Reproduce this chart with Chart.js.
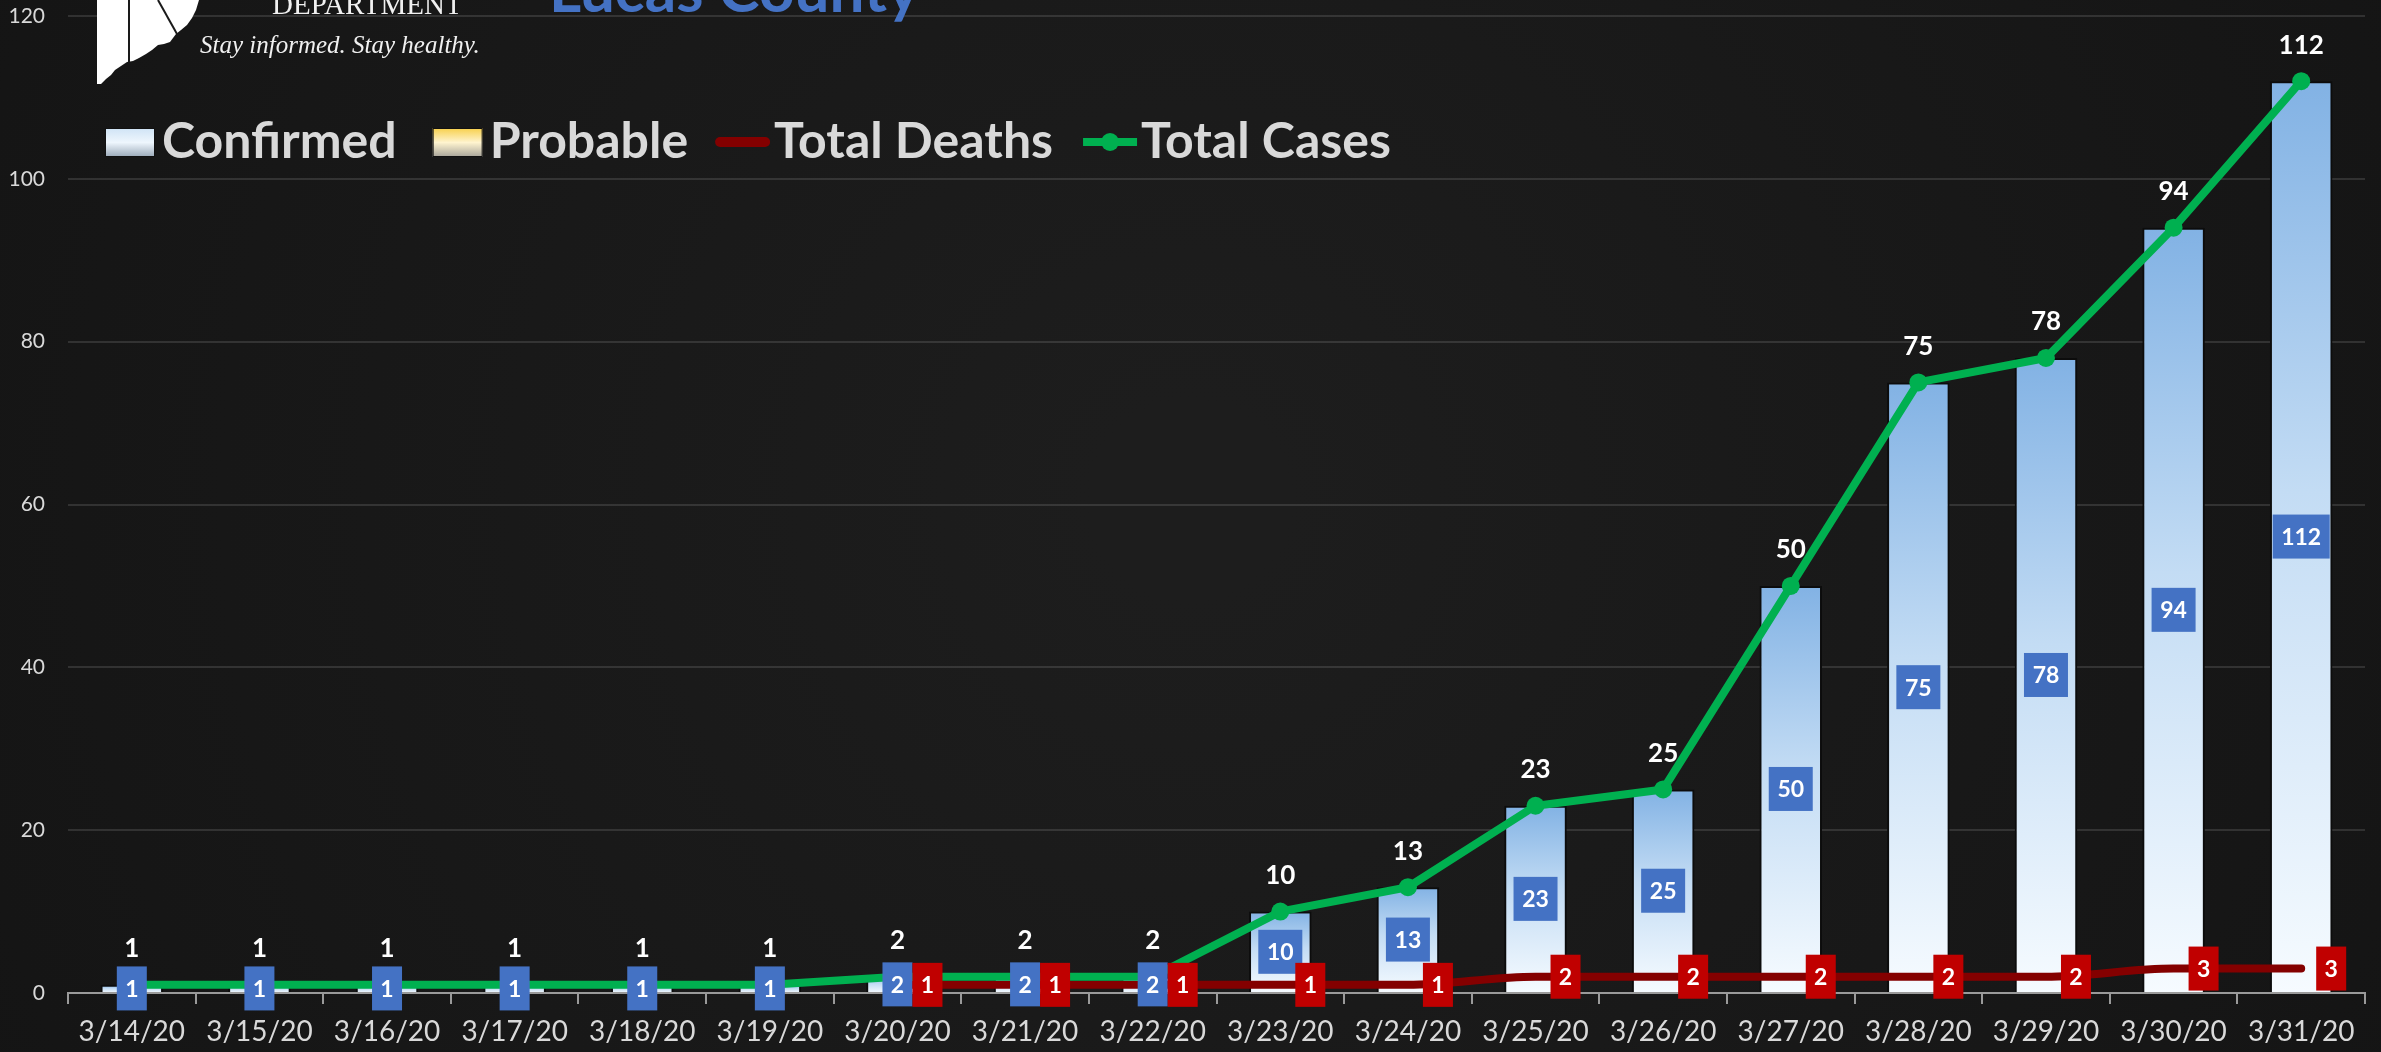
<!DOCTYPE html>
<html>
<head>
<meta charset="utf-8">
<script src="https://cdn.jsdelivr.net/npm/chart.js@4.4.1/dist/chart.umd.min.js"></script>
<style>
  html, body { margin: 0; padding: 0; background: #1b1b1b; overflow: hidden; }
  #wrap { width: 2381px; height: 1052px; }
</style>
</head>
<body>
<div id="wrap"><canvas id="c" width="2381" height="1052"></canvas></div>
<script>
// ---------------- data ----------------
const dates = ['3/14/20','3/15/20','3/16/20','3/17/20','3/18/20','3/19/20','3/20/20','3/21/20','3/22/20',
               '3/23/20','3/24/20','3/25/20','3/26/20','3/27/20','3/28/20','3/29/20','3/30/20','3/31/20'];
const confirmed   = [1, 1, 1, 1, 1, 1, 2, 2, 2, 10, 13, 23, 25, 50, 75, 78, 94, 112];
const probable    = [0, 0, 0, 0, 0, 0, 0, 0, 0, 0, 0, 0, 0, 0, 0, 0, 0, 0];
const totalDeaths = [null, null, null, null, null, null, 1, 1, 1, 1, 1, 2, 2, 2, 2, 2, 3, 3];
const totalCases  = [1, 1, 1, 1, 1, 1, 2, 2, 2, 10, 13, 23, 25, 50, 75, 78, 94, 112];
const seriesNames = ['Confirmed', 'Probable', 'Total Deaths', 'Total Cases'];
const yMin = 0, yMax = 120, yStep = 20;
const titleText = 'Lucas County';
const logoLine1 = 'DEPARTMENT';
const logoLine2 = 'Stay informed. Stay healthy.';

// ---------------- styles ----------------
const FONT = 'Lato, "Open Sans", sans-serif';
const TXT = '#d9d9d9';
const GREEN = '#00b050';
const DRED = '#840000';
const BLUEBOX = '#4472c4';
const REDBOX = '#c00000';

function barGradient(ctx) {
  const chart = ctx.chart;
  const area = chart.chartArea;
  if (!area || ctx.type !== 'data') return '#bcd6f0';
  const y = chart.scales.y;
  const top = y.getPixelForValue(ctx.raw || 0);
  const bot = y.getPixelForValue(0);
  if (!isFinite(top) || bot - top < 1) return '#bcd6f0';
  const g = chart.ctx.createLinearGradient(0, top, 0, bot);
  g.addColorStop(0, '#82b2e4');
  g.addColorStop(0.45, '#c3dcf4');
  g.addColorStop(1, '#f6fbff');
  return g;
}

function drawBox(c, text, cx, cy, color, leftX) {
  c.font = 'bold 23px ' + FONT;
  const tw = c.measureText(text).width;
  const w = Math.round(tw + 17), h = 44;
  const x = leftX !== undefined ? leftX : cx - w / 2;
  c.fillStyle = color;
  c.fillRect(x, cy - h / 2, w, h);
  c.fillStyle = '#ffffff';
  c.textAlign = 'center';
  c.textBaseline = 'middle';
  c.fillText(text, x + w / 2, cy + 1);
}

const overlay = {
  id: 'overlay',
  beforeDraw(chart) {
    const c = chart.ctx;
    c.save();
    const g = c.createRadialGradient(1190, 500, 100, 1190, 500, 1400);
    g.addColorStop(0, '#1d1d1d');
    g.addColorStop(1, '#141414');
    c.fillStyle = g;
    c.fillRect(0, 0, chart.width, chart.height);
    c.restore();
  },
  beforeDatasetsDraw(chart) {
    const c = chart.ctx;
    c.save();
    // logo silhouette (decoration)
    c.fillStyle = '#ffffff';
    c.beginPath();
    const pts = [[97,0],[199,0],[196,10],[192,18],[187,25],[181,30],[176,34],[170,42],[164,44],[158,45],
                 [152,50],[146,54],[139,58],[133,61],[127,62],[121,66],[115,70],[111,75],[106,79],[101,84],[97,84]];
    c.moveTo(pts[0][0], pts[0][1]);
    for (let i = 1; i < pts.length; i++) c.lineTo(pts[i][0], pts[i][1]);
    c.closePath();
    c.fill();
    c.strokeStyle = '#1a1a1a';
    c.lineWidth = 2;
    c.beginPath(); c.moveTo(129, 0); c.lineTo(129, 62); c.stroke();
    c.beginPath(); c.moveTo(158, 0); c.lineTo(177, 34); c.stroke();
    // logo text
    c.fillStyle = '#f0f0f0';
    c.textAlign = 'left';
    c.textBaseline = 'alphabetic';
    c.font = '29px "Liberation Serif", "DejaVu Serif", serif';
    c.fillText(logoLine1, 272, 14);
    c.font = 'italic 25px "Liberation Serif", "DejaVu Serif", serif';
    c.fillText(logoLine2, 200, 53);
    // title
    c.fillStyle = '#4472c4';
    c.font = 'bold 62px ' + FONT;
    c.fillText(titleText, 549, 12);

    // legend
    let x = 105;
    const ly = 142;
    c.font = 'bold 50px ' + FONT;
    c.textBaseline = 'alphabetic';
    const items = [
      {name: seriesNames[0], type: 'box', top: '#cfe3f5', mid: '#eef6fd', bot: '#9aa9b8', gap: 0},
      {name: seriesNames[1], type: 'box', top: '#f7cf4a', mid: '#fff4cf', bot: '#a7a49a', gap: 36},
      {name: seriesNames[2], type: 'line', color: DRED, gap: 27},
      {name: seriesNames[3], type: 'point', color: GREEN, gap: 30}
    ];
    items.forEach(it => {
      x += it.gap;
      if (it.type === 'box') {
        const w = 50, h = 29, y0 = ly - 14;
        const g = c.createLinearGradient(0, y0, 0, y0 + h);
        g.addColorStop(0, it.top);
        g.addColorStop(0.5, it.mid);
        g.addColorStop(1, it.bot);
        c.fillStyle = g;
        c.fillRect(x, y0, w, h);
        c.strokeStyle = '#111';
        c.lineWidth = 1;
        c.strokeRect(x + 0.5, y0 + 0.5, w - 1, h - 1);
        x += w + 7;
      } else if (it.type === 'line') {
        c.strokeStyle = it.color;
        c.lineWidth = 10;
        c.lineCap = 'round';
        c.beginPath(); c.moveTo(x + 5, ly); c.lineTo(x + 50, ly); c.stroke();
        x += 55 + 4;
      } else {
        c.strokeStyle = it.color;
        c.lineWidth = 8;
        c.lineCap = 'butt';
        c.beginPath(); c.moveTo(x, ly); c.lineTo(x + 54, ly); c.stroke();
        c.fillStyle = it.color;
        c.beginPath(); c.arc(x + 27, ly, 9, 0, Math.PI * 2); c.fill();
        x += 54 + 4;
      }
      c.fillStyle = TXT;
      c.textAlign = 'left';
      c.fillText(it.name, x, 158);
      x += c.measureText(it.name).width;
    });
    c.restore();
  },
  afterDatasetsDraw(chart) {
    const c = chart.ctx;
    c.save();
    const barMeta = chart.getDatasetMeta(0);
    const deathMeta = chart.getDatasetMeta(2);
    const caseMeta = chart.getDatasetMeta(3);
    // total-case labels above the points
    c.fillStyle = '#ffffff';
    c.font = 'bold 26px ' + FONT;
    c.textAlign = 'center';
    c.textBaseline = 'middle';
    caseMeta.data.forEach((pt, i) => {
      if (totalCases[i] == null) return;
      c.fillText(String(totalCases[i]), pt.x, pt.y - 36);
    });
    // confirmed boxes in middle of bars
    barMeta.data.forEach((bar, i) => {
      if (!confirmed[i]) return;
      const cy = (bar.y + bar.base) / 2;
      drawBox(c, String(confirmed[i]), bar.x, cy, BLUEBOX);
    });
    // death boxes to the right of points
    deathMeta.data.forEach((pt, i) => {
      if (totalDeaths[i] == null) return;
      drawBox(c, String(totalDeaths[i]), pt.x, pt.y, REDBOX, pt.x + 15);
    });
    c.restore();
  }
};

function build() {
  new Chart(document.getElementById('c'), {
    data: {
      labels: dates,
      datasets: [
        { type: 'bar', label: seriesNames[0], data: confirmed, stack: 'bars', order: 3,
          backgroundColor: barGradient, borderColor: '#0c0c0c', borderWidth: 2,
          barPercentage: 0.49, categoryPercentage: 1.0 },
        { type: 'bar', label: seriesNames[1], data: probable, stack: 'bars', order: 4,
          backgroundColor: '#ffe699', borderWidth: 0,
          barPercentage: 0.49, categoryPercentage: 1.0 },
        { type: 'line', label: seriesNames[2], data: totalDeaths, stack: 'deaths', order: 2,
          borderColor: DRED, borderWidth: 8, borderCapStyle: 'round', pointRadius: 0,
          cubicInterpolationMode: 'monotone', fill: false, spanGaps: false },
        { type: 'line', label: seriesNames[3], data: totalCases, stack: 'cases', order: 1,
          borderColor: GREEN, borderWidth: 8, tension: 0, pointRadius: 9,
          pointBackgroundColor: GREEN, pointBorderColor: GREEN, pointBorderWidth: 0, fill: false }
      ]
    },
    options: {
      responsive: false,
      animation: false,
      devicePixelRatio: 1,
      layout: { autoPadding: false, padding: { top: 16, right: 16, bottom: 0, left: 0 } },
      plugins: { legend: { display: false }, tooltip: { enabled: false } },
      scales: {
        x: {
          stacked: true,
          afterFit: s => { s.height = 59; s.paddingLeft = 0; s.paddingRight = 0; },
          grid: { display: true, drawOnChartArea: false, drawTicks: true, tickLength: 11,
                  color: '#9a9a9a', lineWidth: 2, offset: true },
          border: { display: true, color: '#9a9a9a', width: 2 },
          ticks: { color: TXT, font: { family: FONT, size: 28 }, padding: 11,
                   maxRotation: 0, autoSkip: false }
        },
        y: {
          stacked: true,
          min: yMin, max: yMax,
          afterFit: s => { s.width = 68; s.paddingTop = 0; s.paddingBottom = 0; },
          grid: { color: 'rgba(255,255,255,0.12)', lineWidth: 2, drawTicks: false },
          border: { display: false },
          ticks: { stepSize: yStep, color: TXT, font: { family: FONT, size: 21 }, padding: 23 }
        }
      }
    },
    plugins: [overlay]
  });
}

const loads = [
  'bold 50px Lato', '28px Lato', 'bold 23px Lato', '21px Lato',
  '29px "Liberation Serif"', 'italic 25px "Liberation Serif"'
].map(f => document.fonts.load(f).catch(() => null));
Promise.all(loads).then(build, build);
</script>
</body>
</html>
